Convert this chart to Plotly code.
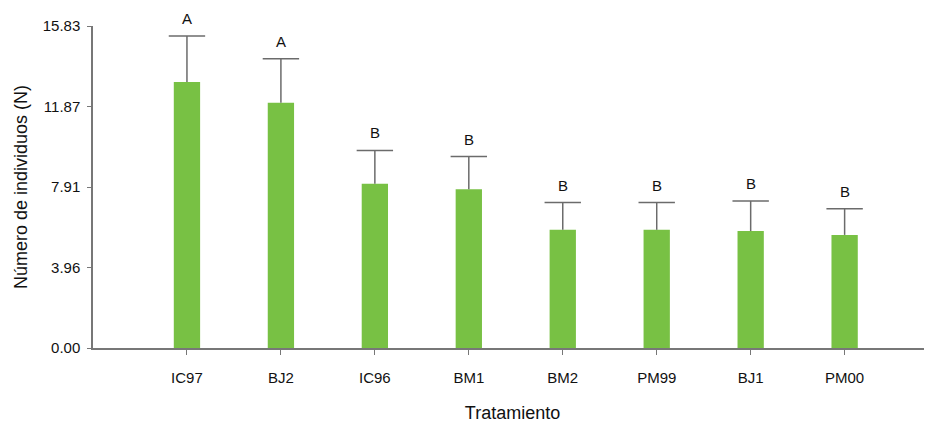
import plotly.graph_objects as go

categories = ["IC97", "BJ2", "IC96", "BM1", "BM2", "PM99", "BJ1", "PM00"]
means = [13.08, 12.06, 8.08, 7.81, 5.81, 5.81, 5.75, 5.56]
errors = [2.26, 2.16, 1.63, 1.60, 1.34, 1.34, 1.48, 1.28]
letters = ["A", "A", "B", "B", "B", "B", "B", "B"]
yticks = [0.00, 3.96, 7.91, 11.87, 15.83]

font_family = "Liberation Sans, Arial, sans-serif"
xs = list(range(len(categories)))
tops = [m + e for m, e in zip(means, errors)]
err_color = "#6b6b6b"

fig = go.Figure()
fig.add_trace(go.Bar(
    x=xs, y=means, width=0.28,
    marker=dict(color="#78C144", line=dict(width=0)),
    showlegend=False, hoverinfo="skip",
))
# error bar stems
sx, sy = [], []
for x, m, t in zip(xs, means, tops):
    sx += [x, x, None]
    sy += [m, t, None]
fig.add_trace(go.Scatter(x=sx, y=sy, mode="lines",
                         line=dict(color=err_color, width=1.5),
                         showlegend=False, hoverinfo="skip"))
# caps
fig.add_trace(go.Scatter(x=xs, y=tops, mode="markers",
                         marker=dict(symbol="line-ew-open", size=26, color=err_color,
                                     line=dict(color=err_color, width=1.5)),
                         showlegend=False, hoverinfo="skip"))

for x, t, l in zip(xs, tops, letters):
    fig.add_annotation(x=x, y=t, text=l, showarrow=False, yanchor="bottom",
                       yshift=7, font=dict(size=15, color="#111", family=font_family))

fig.update_layout(
    width=932, height=425,
    margin=dict(l=85, r=8, t=18, b=85),
    plot_bgcolor="white", paper_bgcolor="white",
    font=dict(family=font_family, color="#111"),
)
fig.update_xaxes(
    range=[-1, 7.93],
    tickvals=xs, ticktext=categories,
    showline=True, linecolor="#777", linewidth=1.5,
    ticks="outside", ticklen=5, tickcolor="#777",
    tickfont=dict(size=15, color="#111"),
    ticklabelstandoff=10,
    title=dict(text="Tratamiento", font=dict(size=18, color="#111"), standoff=22),
    showgrid=False, zeroline=False,
)
fig.update_yaxes(
    range=[0, 15.83],
    tickvals=yticks, ticktext=[f"{v:.2f}" for v in yticks],
    showline=True, linecolor="#777", linewidth=1.5,
    ticks="outside", ticklen=4, tickcolor="#777",
    tickfont=dict(size=15, color="#111"),
    ticklabelstandoff=4,
    title=dict(text="Número de individuos (N)", font=dict(size=18, color="#111"), standoff=10),
    showgrid=False, zeroline=False,
)

fig.write_html("out.html")
